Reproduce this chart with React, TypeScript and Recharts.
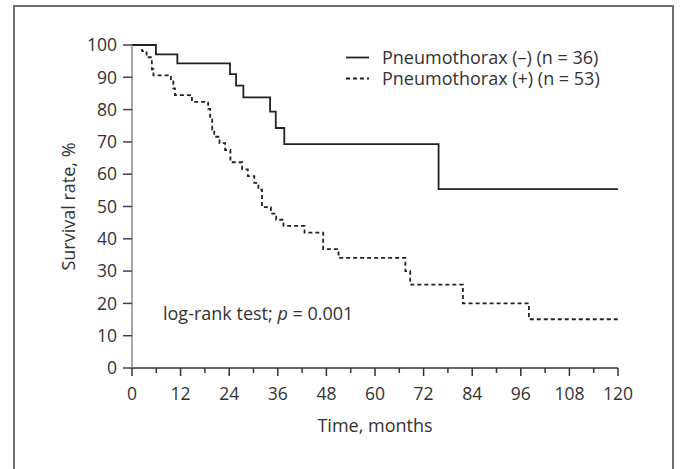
import { LineChart, Line, XAxis, YAxis, Legend, Label } from "recharts";

const monthTicks = [0, 6, 12, 18, 24, 30, 36, 42, 48, 54, 60, 66, 72, 78, 84, 90, 96, 102, 108, 114, 120];
const rateTicks = [0, 10, 20, 30, 40, 50, 60, 70, 80, 90, 100];
const seriesNames = ["Pneumothorax (–) (n = 36)", "Pneumothorax (+) (n = 53)"];

// Pneumothorax (–), n = 36
const negMonths = [0, 5.9, 11.2, 24.2, 25.7, 27.5, 34.1, 35.5, 37.6, 75.7, 120];
const negSurvival = [100, 97.1, 94.3, 91.0, 87.4, 83.8, 79.4, 74.3, 69.3, 55.4, 55.4];

// Pneumothorax (+), n = 53
const posMonths = [
  0, 2.5, 3.6, 4.9, 5.3, 9.6, 10.2, 10.6, 14.8, 18.8, 19.3, 19.8, 20.3, 21.6, 23.0, 24.3, 27.2, 28.6, 30.2,
  31.2, 32.1, 34.3, 35.6, 37.4, 42.6, 47.2, 51.0, 67.5, 68.7, 81.7, 98.0, 120,
];
const posSurvival = [
  100, 98.1, 96.2, 92.5, 90.6, 88.7, 86.6, 84.5, 82.4, 80.2, 77.0, 73.8, 71.6, 69.6, 67.5, 63.7, 61.5, 59.4,
  57.3, 55.2, 49.8, 47.8, 45.9, 44.0, 41.9, 36.8, 34.1, 30.0, 25.8, 20.0, 15.1, 15.1,
];

const negData = negMonths.map((m, i) => ({ month: m, rate: negSurvival[i] }));
const posData = posMonths.map((m, i) => ({ month: m, rate: posSurvival[i] }));

const FONT = "'Open Sans', sans-serif";
const INK = "#333";

function MonthTick({ x, y, payload }: any) {
  const major = payload.value % 12 === 0;
  return (
    <g>
      <line x1={x} x2={x} y1={y} y2={y + (major ? 8 : 5)} stroke={INK} strokeWidth={1.5} />
      {major && (
        <text x={x} y={y + 25} textAnchor="middle" dominantBaseline="central" fill={INK} fontSize={17.5} fontFamily={FONT}>
          {payload.value}
        </text>
      )}
    </g>
  );
}

function LegendBox({ payload }: any) {
  const rows = [...(payload || [])].sort(
    (a: any, b: any) => seriesNames.indexOf(a.value) - seriesNames.indexOf(b.value)
  );
  return (
    <div style={{ fontFamily: FONT, fontSize: 18, color: INK, lineHeight: "21px" }}>
      {rows.map((entry: any) => (
        <div key={entry.value} style={{ display: "flex", alignItems: "center", height: 21 }}>
          <svg width={36} height={21}>
            <line
              x1={0}
              x2={23}
              y1={10.5}
              y2={10.5}
              stroke="#222"
              strokeWidth={1.8}
              strokeDasharray={entry.payload?.strokeDasharray}
            />
          </svg>
          <span style={{ lineHeight: "21px" }}>{entry.value}</span>
        </div>
      ))}
    </div>
  );
}

export default function App() {
  return (
    <div style={{ position: "absolute", left: 0, top: 0, width: 680, height: 469, background: "#fff", overflow: "hidden" }}>
      <div
        style={{
          position: "absolute",
          left: 13,
          top: 5,
          width: 657,
          height: 480,
          border: "2px solid #6e6e6e",
        }}
      />
      <LineChart width={680} height={469} margin={{ top: 45, right: 62, bottom: 0, left: 0 }}>
        <XAxis
          dataKey="month"
          type="number"
          domain={[0, 120]}
          ticks={monthTicks}
          interval={0}
          height={101}
          tickSize={0}
          tickMargin={0}
          tickLine={false}
          axisLine={{ stroke: "#333", strokeWidth: 1.5 }}
          tick={<MonthTick />}
        >
          <Label
            content={({ viewBox }: any) => (
              <text
                x={viewBox.x + viewBox.width / 2}
                y={viewBox.y + 57}
                textAnchor="middle"
                dominantBaseline="central"
                fill={INK}
                fontSize={18}
                fontFamily={FONT}
              >
                Time, months
              </text>
            )}
          />
        </XAxis>
        <YAxis
          dataKey="rate"
          type="number"
          domain={[0, 100]}
          ticks={rateTicks}
          interval={0}
          width={132}
          tickSize={9}
          tickMargin={6}
          tickLine={{ stroke: "#444", strokeWidth: 1.5 }}
          axisLine={{ stroke: "#8a8a8a", strokeWidth: 1.5 }}
          tick={{ fill: INK, fontSize: 17.5, fontFamily: FONT }}
        >
          <Label
            content={({ viewBox }: any) => {
              const cx = 68;
              const cy = viewBox.y + viewBox.height / 2;
              return (
                <text
                  x={cx}
                  y={cy}
                  transform={`rotate(-90 ${cx} ${cy})`}
                  textAnchor="middle"
                  dominantBaseline="central"
                  fill={INK}
                  fontSize={18}
                  fontFamily={FONT}
                >
                  Survival rate, %
                </text>
              );
            }}
          />
        </YAxis>
        <Legend
          layout="horizontal"
          verticalAlign="middle"
          align="center"
          content={<LegendBox />}
          wrapperStyle={{ top: 47, left: 346, width: 320 }}
        />
        <Line
          data={negData}
          dataKey="rate"
          name={seriesNames[0]}
          type="stepAfter"
          stroke="#222"
          strokeWidth={1.8}
          dot={false}
          activeDot={false}
          isAnimationActive={false}
        />
        <Line
          data={posData}
          dataKey="rate"
          name={seriesNames[1]}
          type="stepAfter"
          stroke="#222"
          strokeWidth={1.8}
          strokeDasharray="4 3"
          dot={false}
          activeDot={false}
          isAnimationActive={false}
        />
      </LineChart>
      <div
        style={{
          position: "absolute",
          left: 163,
          top: 301,
          fontFamily: FONT,
          fontSize: 18,
          color: INK,
          whiteSpace: "nowrap",
          lineHeight: "24px",
        }}
      >
        log-rank test; <i>p</i> = 0.001
      </div>
    </div>
  );
}
